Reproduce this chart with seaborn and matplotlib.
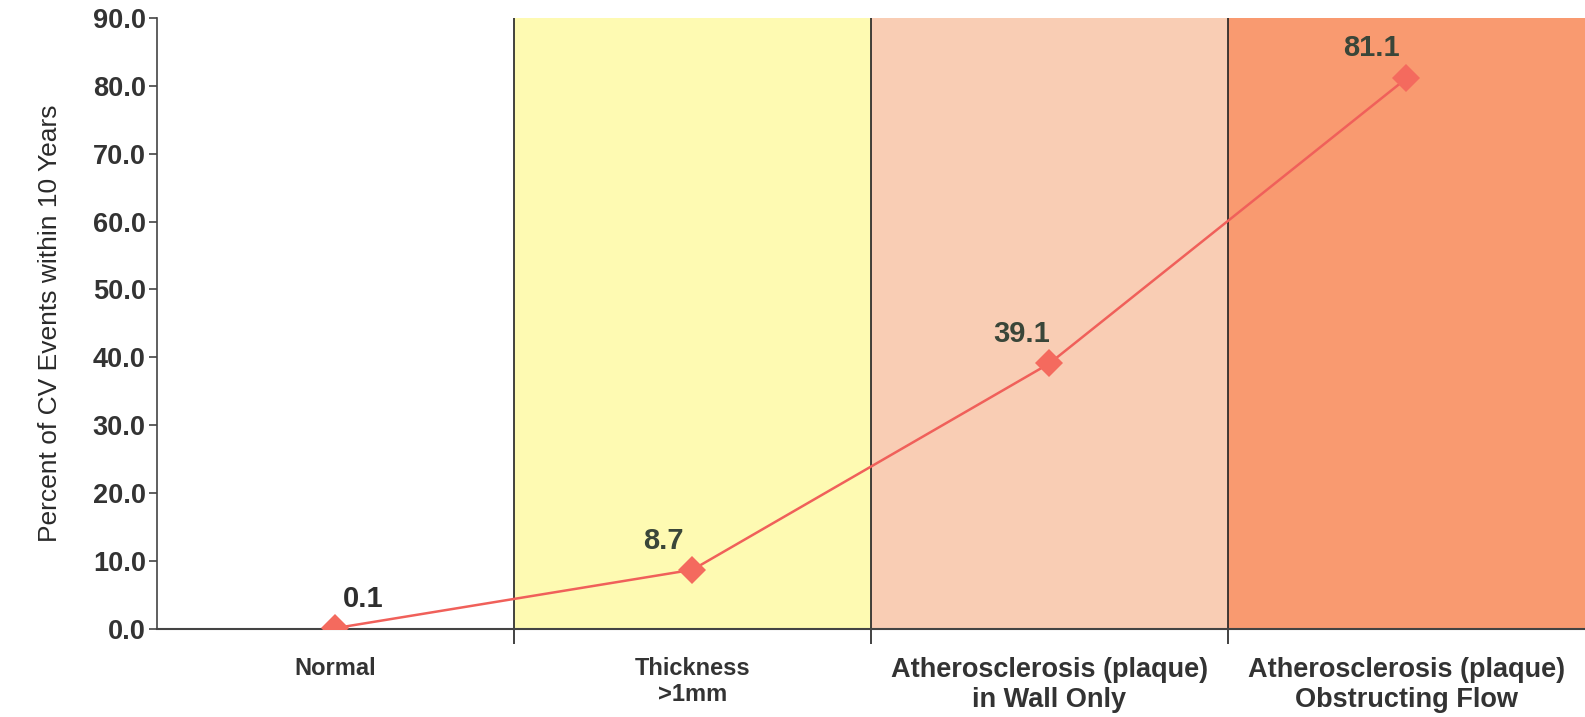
import numpy as np
import pandas as pd
import seaborn as sns
import matplotlib.pyplot as plt
from matplotlib.ticker import FixedLocator, NullFormatter

categories = ['Normal', 'Thickness\n>1mm', 'Atherosclerosis (plaque)\nin Wall Only',
              'Atherosclerosis (plaque)\nObstructing Flow']
pct_events = [0.1, 8.7, 39.1, 81.1]
value_labels = ['0.1', '8.7', '39.1', '81.1']
band_colors = ['#ffffff', '#fefab2', '#f9cdb4', '#f99a70']
y_ticks = [0, 10, 20, 30, 40, 50, 60, 70, 80, 90]

sns.set_theme(style='white')
plt.rcParams['font.family'] = ['Liberation Sans', 'DejaVu Sans']

df = pd.DataFrame({'category': categories, 'pct': pct_events})

fig = plt.figure(figsize=(15.85, 7.17), dpi=100)
ax = fig.add_axes([0.099, 0.123, 0.901, 0.852])

# Shaded bands behind each category
for i, c in enumerate(band_colors):
    ax.axvspan(i - 0.5, i + 0.5, color=c, zorder=0, lw=0)
# Dividers between categories
for b in np.arange(0.5, len(categories) - 0.5, 1.0):
    ax.axvline(b, color='#222222', lw=1.2, zorder=1)

sns.lineplot(data=df, x='category', y='pct', ax=ax, color='#f0605a',
             lw=1.8, marker='D', markersize=14, markeredgewidth=0,
             markerfacecolor='#f46a5e', sort=False, zorder=3)

# Value labels
offsets = [(20, 21), (-21, 21), (-20, 21), (-25, 22)]
for i, (v, lab) in enumerate(zip(pct_events, value_labels)):
    ax.annotate(lab, (i, v), xytext=offsets[i], textcoords='offset points',
                ha='center', va='center', fontsize=21, fontweight='bold',
                color='#3a4639' if i else '#2e2e2e')

ax.set_xlim(-0.5, len(categories) - 0.5)
ax.set_ylim(0, 90)
ax.set_yticks(y_ticks)
ax.set_yticklabels([f'{t:.1f}' for t in y_ticks], fontsize=19.5, fontweight='bold',
                   color='#333333')
ax.set_xticks(range(len(categories)))
ax.set_xticklabels(categories, fontweight='bold', color='#333333', linespacing=1.2)
for i, t in enumerate(ax.get_xticklabels()):
    t.set_fontsize(17 if i < 2 else 19.5)
ax.xaxis.set_minor_locator(FixedLocator([0.5, 1.5, 2.5]))
ax.xaxis.set_minor_formatter(NullFormatter())
ax.tick_params(axis='x', which='major', length=0, pad=20)
ax.tick_params(axis='x', which='minor', bottom=True, length=11, width=1.2,
               color='#222222', direction='out')
ax.tick_params(axis='y', left=True, length=6, width=1.2, color='#444444',
               direction='out', pad=2)

ax.set_xlabel('')
ax.set_ylabel('Percent of CV Events within 10 Years', fontsize=19,
              color='#2a2a2a', labelpad=22)

for side in ['top', 'right']:
    ax.spines[side].set_visible(False)
ax.spines['left'].set_color('#444444')
ax.spines['left'].set_linewidth(1.2)
ax.spines['bottom'].set_color('#444444')
ax.spines['bottom'].set_linewidth(1.5)

fig.savefig('out.png', dpi=100)
